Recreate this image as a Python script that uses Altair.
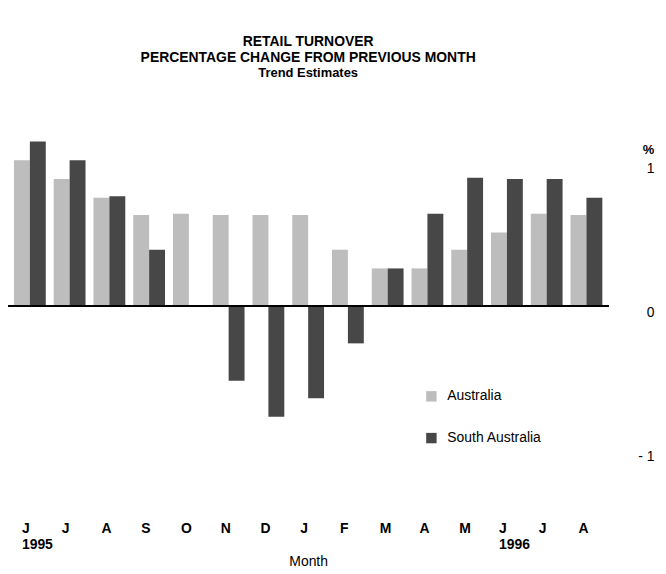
import altair as alt
import pandas as pd

months = ["1995-06", "1995-07", "1995-08", "1995-09", "1995-10", "1995-11", "1995-12",
          "1996-01", "1996-02", "1996-03", "1996-04", "1996-05", "1996-06", "1996-07", "1996-08"]
month_letters = ["J", "J", "A", "S", "O", "N", "D", "J", "F", "M", "A", "M", "J", "J", "A"]
series = ["Australia", "South Australia"]
australia = [1.01, 0.88, 0.75, 0.63, 0.64, 0.63, 0.63, 0.63, 0.39, 0.26, 0.26, 0.39, 0.51, 0.64, 0.63]
south_australia = [1.14, 1.01, 0.76, 0.39, 0.0, -0.52, -0.77, -0.64, -0.26, 0.26, 0.64, 0.89, 0.88, 0.88, 0.75]

rows = []
for i, m in enumerate(months):
    rows.append({"month": m, "series": series[0], "value": australia[i]})
    rows.append({"month": m, "series": series[1], "value": south_australia[i]})
df = pd.DataFrame(rows)

label_expr_parts = []
for m, l in zip(months, month_letters):
    if m == "1995-06":
        label_expr_parts.append(f"datum.value == '{m}' ? ['{l}', '1995']")
    elif m == "1996-06":
        label_expr_parts.append(f"datum.value == '{m}' ? ['{l}', '1996']")
    else:
        label_expr_parts.append(f"datum.value == '{m}' ? '{l}'")
label_expr = " : ".join(label_expr_parts) + " : ''"

FONT = "Liberation Sans"

bars = alt.Chart(df).mark_bar(size=16).encode(
    x=alt.X("month:N", sort=months,
            scale=alt.Scale(paddingInner=0.2, paddingOuter=0.15),
            axis=alt.Axis(title="Month", labelExpr=label_expr, labelAngle=0,
                          labelAlign="left", labelOffset=-8, labelPadding=72,
                          labelLineHeight=16, labelBaseline="top",
                          labelFontSize=14, labelFontWeight="bold", labelFont=FONT,
                          titleFont=FONT, titleFontSize=14, titleFontWeight="normal",
                          titlePadding=3, domain=False, ticks=False)),
    xOffset=alt.XOffset("series:N", sort=series),
    y=alt.Y("value:Q", scale=alt.Scale(domain=[-1, 1.2], nice=False),
            axis=alt.Axis(orient="right", values=[-1, 0, 1], title="%",
                          titleAngle=0, titleX=40, titleY=24, titleFont=FONT,
                          titleFontSize=13, titleFontWeight="bold",
                          labelFont=FONT, labelFontSize=14, labelAlign="right",
                          labelPadding=46, labelBaseline="top",
                          labelExpr="datum.value == -1 ? '- 1' : format(datum.value, 'd')",
                          domain=False, ticks=False, grid=False)),
    color=alt.Color("series:N", sort=series,
                    scale=alt.Scale(domain=series, range=["#bdbdbd", "#474747"]),
                    legend=alt.Legend(title=None, orient="none", legendX=419, legendY=258,
                                      padding=0, symbolType="square", symbolSize=110,
                                      labelFont=FONT, labelFontSize=14,
                                      rowPadding=28, symbolStrokeWidth=0,
                                      labelOffset=9)),
)

zero = alt.Chart(df).mark_rule(color="black", strokeWidth=2).encode(y=alt.datum(0))

chart = alt.layer(bars, zero).properties(
    width=604, height=319,
    title=alt.Title(["RETAIL TURNOVER", "PERCENTAGE CHANGE FROM PREVIOUS MONTH"],
                    subtitle="Trend Estimates", font=FONT, fontSize=14, fontWeight="bold",
                    lineHeight=16.5, subtitleFont=FONT, subtitleFontSize=13,
                    subtitleFontWeight="bold", subtitlePadding=2, anchor="middle",
                    offset=53, color="black"),
    autosize=alt.AutoSizeParams(type="none"),
    padding={"left": 0, "top": 124, "right": 50, "bottom": 120},
).configure_view(stroke=None).configure_axis(labelColor="black", titleColor="black")

chart.save("out.html", embed_options={"renderer": "svg", "actions": False})
